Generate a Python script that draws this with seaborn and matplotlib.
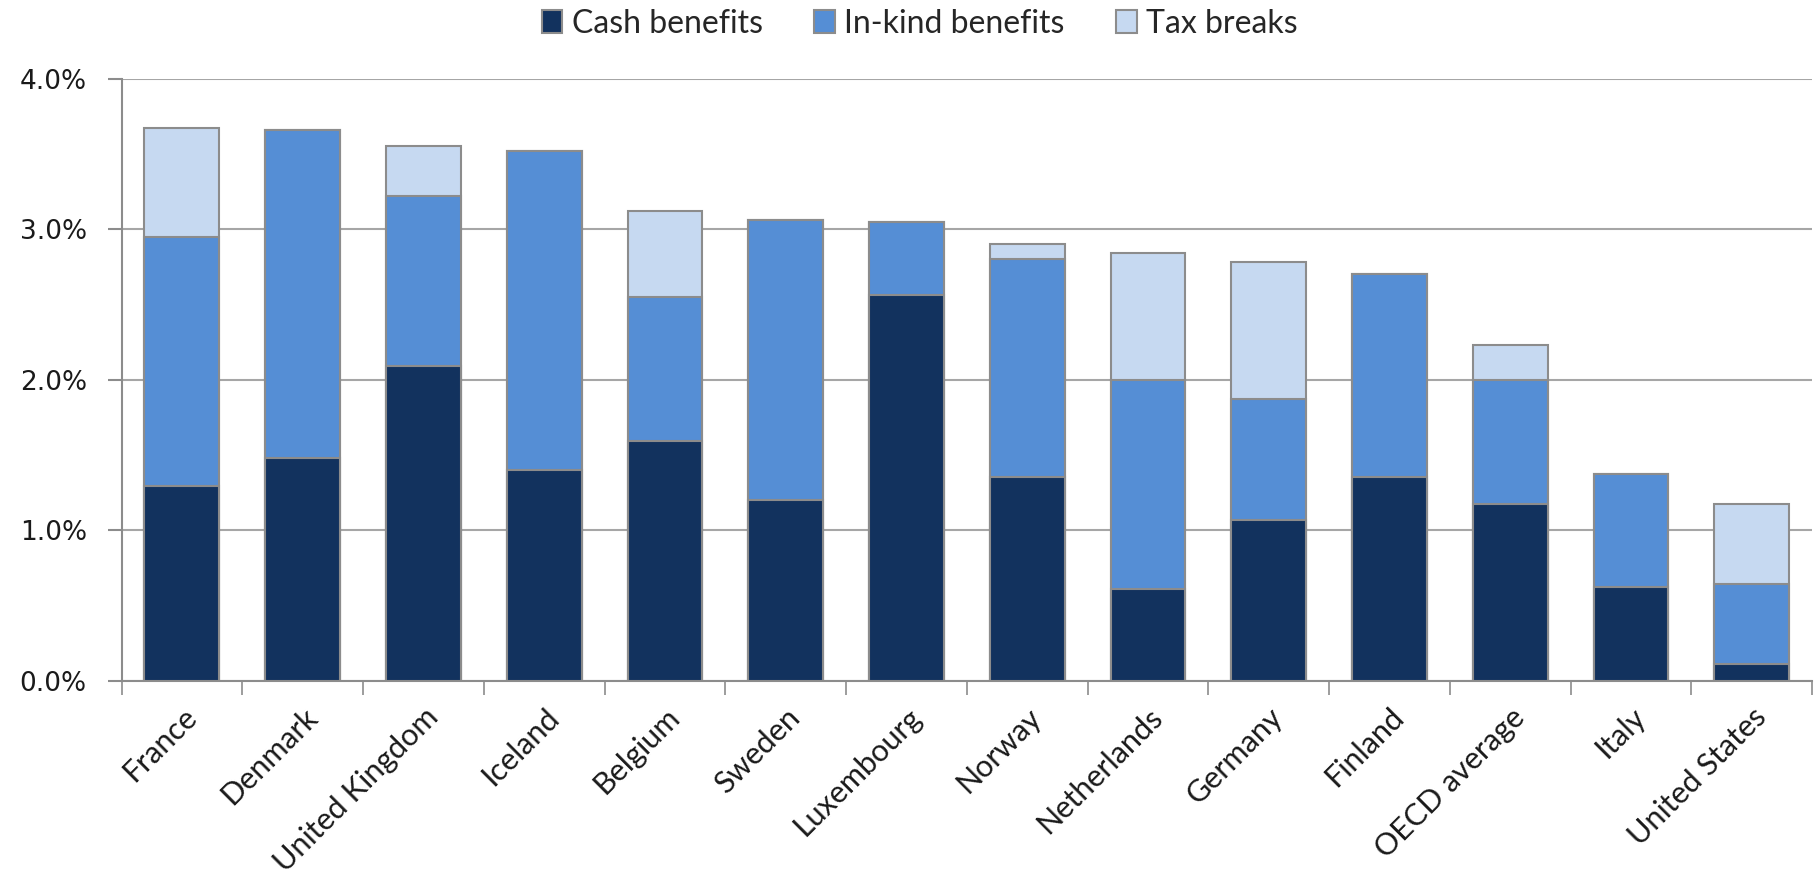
import matplotlib
matplotlib.use("Agg")
import matplotlib.pyplot as plt
from matplotlib.patches import Patch
from matplotlib.ticker import FuncFormatter, FixedLocator
import numpy as np
import pandas as pd
import seaborn as sns

countries = ["France", "Denmark", "United Kingdom", "Iceland", "Belgium", "Sweden",
             "Luxembourg", "Norway", "Netherlands", "Germany", "Finland",
             "OECD average", "Italy", "United States"]
cash = [1.29, 1.48, 2.09, 1.40, 1.59, 1.20, 2.56, 1.35, 0.61, 1.07, 1.35, 1.17, 0.62, 0.11]
inkind = [1.66, 2.18, 1.13, 2.12, 0.96, 1.86, 0.49, 1.45, 1.39, 0.80, 1.35, 0.83, 0.75, 0.53]
tax = [0.72, 0.00, 0.33, 0.00, 0.57, 0.00, 0.00, 0.10, 0.84, 0.91, 0.00, 0.23, 0.00, 0.53]
series_names = ["Cash benefits", "In-kind benefits", "Tax breaks"]
y_ticks = [0.0, 1.0, 2.0, 3.0, 4.0]

colors = ["#12325E", "#558ED5", "#C6D9F1"]
edge = "#8C8C8C"

sns.set_style("white")
plt.rcParams["font.family"] = ["DejaVu Sans"]

df = pd.DataFrame({"country": countries, "cash": cash, "inkind": inkind, "tax": tax})
df["lvl2"] = df["cash"] + df["inkind"]
df["lvl3"] = df["lvl2"] + df["tax"]

fig = plt.figure(figsize=(18.14, 8.83), dpi=100)
ax = fig.add_axes([0.067, 0.2293, 0.932, 0.6816])

bar_kw = dict(width=0.62, edgecolor=edge, linewidth=1.5, saturation=1, zorder=3)
sns.barplot(data=df, x="country", y="lvl3", color=colors[2], ax=ax, **bar_kw)
sns.barplot(data=df, x="country", y="lvl2", color=colors[1], ax=ax, **bar_kw)
sns.barplot(data=df, x="country", y="cash", color=colors[0], ax=ax, **bar_kw)

ax.set_xlim(-0.5, len(countries) - 0.5)
ax.set_ylim(0, 4.0)
ax.set_xlabel("")
ax.set_ylabel("")

ax.yaxis.set_major_locator(FixedLocator(y_ticks))
ax.yaxis.set_major_formatter(FuncFormatter(lambda v, p: f"{v:.1f}%"))
ax.grid(axis="y", color="#A6A6A6", linewidth=1.5, zorder=0)
ax.set_axisbelow(True)

for s in ["top", "right"]:
    ax.spines[s].set_visible(False)
for s in ["left", "bottom"]:
    ax.spines[s].set_color(edge)
    ax.spines[s].set_linewidth(1.5)

ax.tick_params(axis="y", which="major", direction="out", length=10, width=1.5,
               color=edge, pad=15, labelsize=19, labelcolor="#1a1a1a", left=True)

# x labels at category centres, tick marks at category boundaries
ax.set_xticks(range(len(countries)))
ax.set_xticklabels(countries, rotation=45, ha="right", rotation_mode="anchor",
                   fontsize=22, family=["Lato", "DejaVu Sans"], color="#1a1a1a")
ax.tick_params(axis="x", which="major", length=0, pad=16)
ax.set_xticks(np.arange(-0.5, len(countries), 1.0), minor=True)
ax.tick_params(axis="x", which="minor", direction="out", length=10, width=1.2,
               color=edge, bottom=True)

handles = [Patch(facecolor=c, edgecolor=edge, linewidth=1.5) for c in colors]
fig.legend(handles, series_names, loc="center", bbox_to_anchor=(0.507, 0.973),
           ncol=3, frameon=False, handlelength=0.65, handleheight=0.75,
           handletextpad=0.3, columnspacing=1.6,
           prop={"family": ["Lato", "DejaVu Sans"], "size": 23})

fig.savefig("out.png", dpi=100)
